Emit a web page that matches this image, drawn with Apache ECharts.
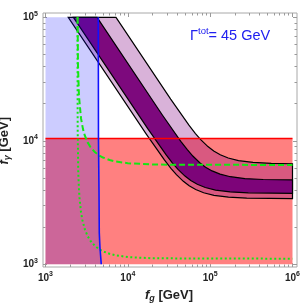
<!DOCTYPE html>
<html><head><meta charset="utf-8">
<script src="https://cdn.jsdelivr.net/npm/echarts@6/dist/echarts.min.js"></script>
<style>html,body{margin:0;padding:0;background:#fff}#c{width:300px;height:307px}</style>
</head><body><div id="c"></div>
<script>
// axis ranges / ticks
const xRange = [1e3, 1e6];
const yRange = [1e3, 1e5];

// excluded regions
const redLevel = 10450;                 // red horizontal line (f_gamma)
const blueX = [4378, 4400, 4465, 4500, 4590, 4760];   // blue boundary (f_g)
const blueY = [100000, 10000, 4000, 1800, 1350, 1000];

// outer band, upper edge
const uOutX = [7180, 33140, 55230, 66280, 77320, 93890, 110460, 132550, 165700, 220900, 331400, 552300, 1000000];
const uOutY = [100000, 21750, 13380, 11440, 10170, 8980, 8270, 7710, 7260, 6920, 6680, 6570, 6520];
// inner band, upper edge
const uInX = [4230, 26380, 43970, 52760, 61560, 74750, 87940, 105530, 131900, 175900, 263800, 439700, 1000000];
const uInY = [100000, 16100, 9900, 8469, 7528, 6644, 6118, 5703, 5370, 5119, 4946, 4859, 4820];
// inner band, lower edge
const lInX = [2180, 17440, 29070, 34880, 40690, 49410, 58130, 69760, 87200, 116300, 174400, 290700, 1000000];
const lInY = [100000, 12550, 7718, 6603, 5869, 5180, 4770, 4446, 4187, 3991, 3856, 3788, 3755];
// outer band, lower edge
const lOutX = [1890, 16680, 27800, 33350, 38910, 47250, 55590, 66710, 83390, 111200, 166800, 278000, 1000000];
const lOutY = [100000, 11380, 6998, 5986, 5321, 4696, 4325, 4031, 3796, 3619, 3496, 3434, 3404];

// green dashed curve
const dashX = [2455, 2480, 2550, 2700, 2850, 3000, 3250, 3500, 4000, 4500, 5000, 6000, 7000, 10000, 20000, 50000, 1000000];
const dashY = [100000, 41150, 23010, 15180, 12488, 11055, 9710, 8934, 8071, 7606, 7319, 6989, 6811, 6580, 6428, 6388, 6380];
// green dotted curve
const dotX = [2450, 2452, 2460, 2500, 2550, 2600, 2700, 2800, 3000, 3250, 3500, 4000, 4500, 5000, 6000, 7000, 10000, 20000, 1000000];
const dotY = [100000, 27500, 12330, 5578, 4003, 3316, 2641, 2293, 1923, 1689, 1554, 1404, 1323, 1273, 1216, 1185, 1145, 1118, 1110];

const zip = (a, b) => a.map((v, i) => [v, b[i]]);

function polySeries(pts, style, z) {
  return {
    type: 'custom', xAxisIndex: 0, yAxisIndex: 0, z: z, silent: true,
    data: [[xRange[0], yRange[0]]],
    renderItem: (params, api) => ({
      type: 'polygon',
      shape: { points: pts.map(p => api.coord(p)) },
      style: style
    })
  };
}
function lineSeries(data, color, width, type, z) {
  return {
    type: 'line', xAxisIndex: 0, yAxisIndex: 0, z: z, silent: true,
    data: data, showSymbol: false, symbol: 'none',
    lineStyle: { color: color, width: width, type: type }
  };
}

const redPoly = [[xRange[0], yRange[0]], [xRange[0], redLevel], [xRange[1], redLevel], [xRange[1], yRange[0]]];
const bluePoly = [[xRange[0], yRange[0]], [xRange[0], yRange[1]]].concat(zip(blueX, blueY));
const outerPoly = zip(uOutX, uOutY).concat(zip(lOutX, lOutY).reverse());
const innerPoly = zip(uInX, uInY).concat(zip(lInX, lInY).reverse());

const tickColor = '#9a9a9a';
const labRich = {
  b: { fontSize: 10, fontWeight: 'bold', fontFamily: 'Liberation Sans, Arial', color: '#222', lineHeight: 14 },
  s: { fontSize: 7, fontWeight: 'bold', fontFamily: 'Liberation Sans, Arial', color: '#222', lineHeight: 8, verticalAlign: 'top' }
};
const powFmt = v => '{b|10}{s|' + Math.round(Math.log10(v)) + '}';

function logAxis(kind, pos, range, offset, showLabel, margin) {
  return {
    type: 'log', logBase: 10, gridIndex: 0, position: pos, offset: offset,
    min: range[0], max: range[1],
    axisLine: { show: false },
    axisTick: { show: true, inside: true, length: 4, lineStyle: { color: tickColor } },
    minorTick: { show: true, splitNumber: 9, length: 2.5, lineStyle: { color: tickColor } },
    splitLine: { show: false }, minorSplitLine: { show: false },
    axisLabel: { show: showLabel, formatter: powFmt, margin: margin, rich: labRich }
  };
}

const nameRich = {
  f: { fontSize: 13, fontWeight: 'bold', fontStyle: 'italic', fontFamily: 'Liberation Sans', color: '#222', lineHeight: 16 },
  s: { fontSize: 9, fontWeight: 'bold', fontStyle: 'italic', fontFamily: 'Liberation Sans', color: '#222', lineHeight: 9, verticalAlign: 'bottom' },
  n: { fontSize: 13, fontWeight: 'bold', fontFamily: 'Liberation Sans', color: '#222', lineHeight: 16 }
};

const xAxes = [
  Object.assign(logAxis('x', 'bottom', xRange, 2.7, true, 4), {
    name: '{f|f}{s|g}{n| [GeV]}', nameLocation: 'middle', nameGap: 20,
    nameTextStyle: { rich: nameRich }
  }),
  logAxis('x', 'top', xRange, 4.3, false, 4),
  { type: 'value', gridIndex: 1, show: false, min: 0, max: 1 }
];
const yAxes = [
  Object.assign(logAxis('y', 'left', yRange, 2.5, true, 5), {
    name: '{f|f}{s|γ}{n| [GeV]}', nameLocation: 'middle', nameGap: 24, nameRotate: 90,
    nameTextStyle: { rich: nameRich }
  }),
  logAxis('y', 'right', yRange, 4.5, false, 4),
  { type: 'value', gridIndex: 1, show: false, min: 0, max: 1 }
];

const chart = echarts.init(document.getElementById('c'), null, { renderer: 'canvas' });
chart.setOption({
  animation: false,
  backgroundColor: '#fff',
  title: {
    text: '{g|Γ}{s|tot}{n|= 45 GeV}', left: 185, top: 21,
    textStyle: { fontWeight: 'normal', rich: {
      g: { fontSize: 14.5, fontWeight: 'normal', fontFamily: 'Liberation Sans', color: '#2020f0', lineHeight: 20 },
      s: { fontSize: 9.5, fontWeight: 'normal', fontFamily: 'Liberation Sans', color: '#2020f0', lineHeight: 10, verticalAlign: 'top' },
      n: { fontSize: 14.5, fontWeight: 'normal', fontFamily: 'Liberation Sans', color: '#2020f0', lineHeight: 20 }
    } }
  },
  grid: [
    { left: 45.5, right: 7.5, top: 17.3, bottom: 42.7, containLabel: false, outerBoundsMode: 'none' },
    { left: 43, right: 3, top: 13, bottom: 40, show: true, borderColor: '#a8a8a8', borderWidth: 1, backgroundColor: 'transparent', z: 0, containLabel: false, outerBoundsMode: 'none' }
  ],
  xAxis: xAxes,
  yAxis: yAxes,
  series: [
    polySeries(redPoly, { fill: '#ff8080' }, 1),
    polySeries(outerPoly, { fill: 'rgba(128,0,128,0.3)', stroke: '#000', lineWidth: 1.2 }, 2),
    polySeries(innerPoly, { fill: 'rgba(120,0,120,0.95)', stroke: '#000', lineWidth: 1.2 }, 3),
    polySeries(bluePoly, { fill: 'rgba(0,0,255,0.2)' }, 4),
    lineSeries([[xRange[0], redLevel], [xRange[1], redLevel]], '#ff0000', 1.6, 'solid', 5),
    lineSeries(zip(dashX, dashY), '#14e614', 2, [6, 3], 6),
    lineSeries(zip(dotX, dotY), '#14e614', 2, [2, 2.5], 6),
    lineSeries(zip(blueX, blueY), '#1010ff', 1.6, 'solid', 7)
  ]
});
</script>
</body></html>
